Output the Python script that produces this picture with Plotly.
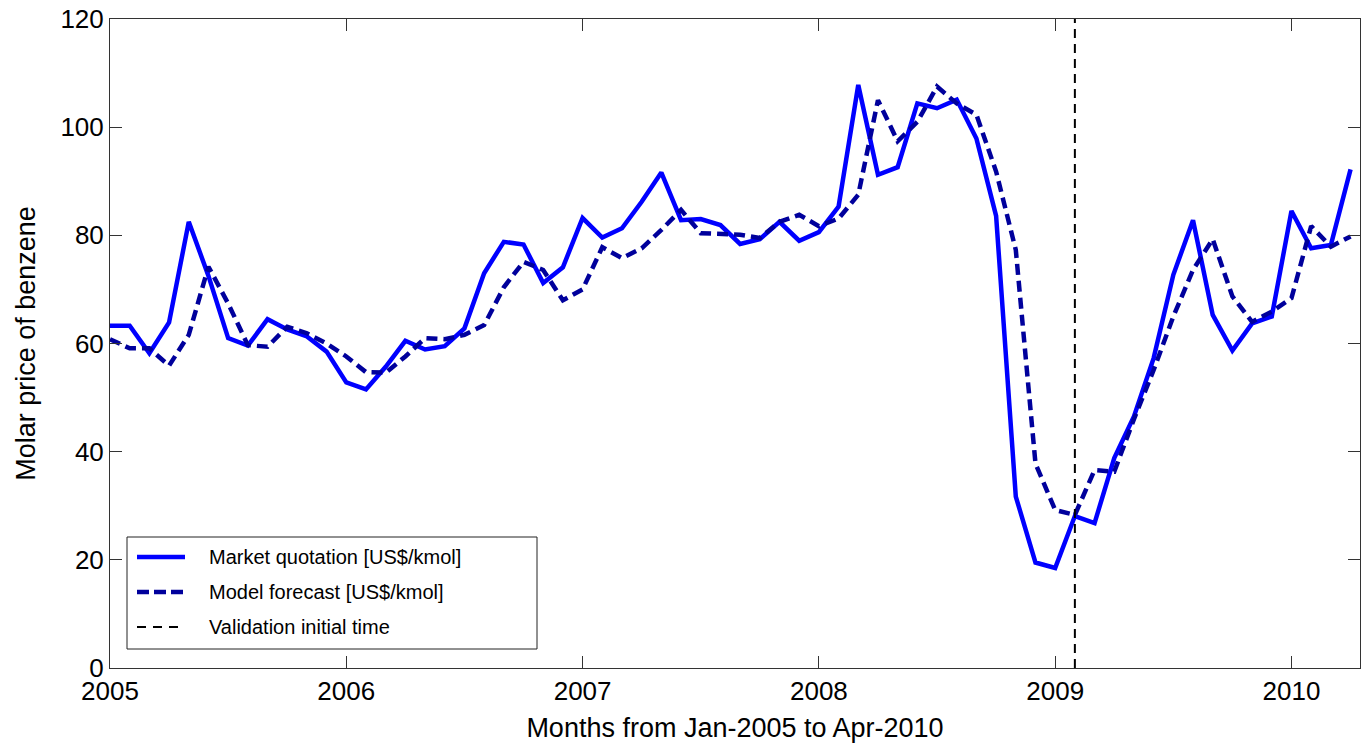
import plotly.graph_objects as go

# Monthly time axis: Jan-2005 .. Apr-2010 (64 months), in decimal years
n_months = 64
months = [2005 + i / 12 for i in range(n_months)]

# Market quotation of benzene [US$/kmol]
market = [
    63.3, 63.3, 58.2, 63.9, 82.5, 72.5, 61.0, 59.6, 64.5, 62.6, 61.3, 58.5,
    52.8, 51.5, 55.7, 60.5, 58.9, 59.5, 62.8, 73.0, 78.8, 78.3, 71.2, 74.1,
    83.2, 79.6, 81.3, 86.2, 91.6, 82.8, 83.0, 81.9, 78.4, 79.3, 82.5, 79.0,
    80.6, 85.3, 107.8, 91.2, 92.6, 104.4, 103.5, 105.1, 97.9, 83.6, 31.7, 19.5,
    18.5, 28.1, 26.8, 38.8, 46.5, 57.3, 72.7, 82.8, 65.3, 58.7, 63.7, 65.0,
    84.5, 77.6, 78.2, 92.2,
]

# Model forecast [US$/kmol]
model = [
    60.8, 59.1, 59.1, 55.9, 61.6, 74.2, 67.4, 59.7, 59.4, 63.1, 61.9, 60.0,
    57.6, 54.7, 54.6, 57.6, 61.0, 60.8, 61.6, 63.4, 70.4, 75.1, 73.6, 68.0,
    70.0, 77.8, 75.8, 77.6, 81.0, 84.7, 80.4, 80.2, 80.1, 79.5, 82.5, 83.8,
    81.7, 83.1, 87.5, 105.0, 97.4, 101.0, 107.5, 104.4, 102.3, 91.8, 77.3, 37.8,
    29.2, 28.3, 36.6, 36.3, 46.0, 55.1, 65.0, 73.6, 79.3, 68.7, 64.0, 65.9,
    68.4, 81.7, 77.9, 79.8,
]

# Start of the validation period (Feb-2009)
validation_start = 2009 + 1 / 12
y_limits = [0, 120]

year_ticks = [2005, 2006, 2007, 2008, 2009, 2010]
year_labels = ["2005", "2006", "2007", "2008", "2009", "2010"]

series_names = [
    "Market quotation [US$/kmol]",
    "Model forecast [US$/kmol]",
    "Validation initial time",
]

FONT = "Liberation Sans, Arial, Helvetica, sans-serif"
W, H = 1364, 744
M_L, M_R, M_T, M_B = 110, 4, 19, 76

styles = [
    dict(color="#0000FF", width=4.5),
    dict(color="#00009C", width=4.5, dash="11px,6px"),
    dict(color="black", width=2, dash="9px,6px"),
]

fig = go.Figure()

fig.add_trace(go.Scatter(x=months, y=market, mode="lines",
                         name=series_names[0], line=styles[0]))
fig.add_trace(go.Scatter(x=months, y=model, mode="lines",
                         name=series_names[1], line=styles[1]))
fig.add_trace(go.Scatter(x=[validation_start, validation_start], y=y_limits,
                         mode="lines", name=series_names[2], line=styles[2]))

axis_common = dict(
    showline=True, linecolor="#333333", linewidth=1, mirror="ticks",
    ticks="inside", ticklen=12, tickwidth=1, tickcolor="#333333",
    showgrid=False, zeroline=False,
    tickfont=dict(family=FONT, size=26, color="black"),
)

fig.update_xaxes(
    range=[2005, 2010.29],
    tickvals=year_ticks, ticktext=year_labels,
    title=dict(text="Months from Jan-2005 to Apr-2010",
               font=dict(family=FONT, size=27, color="black"), standoff=12),
    **axis_common,
)
fig.update_yaxes(
    range=y_limits, dtick=20,
    title=dict(text="Molar price of benzene",
               font=dict(family=FONT, size=27, color="black"), standoff=16),
    **axis_common,
)

# Boxed legend in the lower-left corner of the axes (pixel layout -> paper coords)
plot_w = W - M_L - M_R
plot_h = H - M_T - M_B


def px_x(px):
    return (px - M_L) / plot_w


def px_y(py):
    return (H - M_B - py) / plot_h


box = dict(x0=127, x1=537, y0=537, y1=649)
fig.add_shape(type="rect", xref="paper", yref="paper",
              x0=px_x(box["x0"]), x1=px_x(box["x1"]),
              y0=px_y(box["y1"]), y1=px_y(box["y0"]),
              line=dict(color="#222222", width=1), fillcolor="white",
              layer="above")
row_y = [557, 592, 627]
legend_dash = [None, "12px,5px", "9px,7px"]
for name, st, ry, dsh in zip(series_names, styles, row_y, legend_dash):
    line_style = dict(color=st["color"], width=st["width"])
    if dsh:
        line_style["dash"] = dsh
    fig.add_shape(type="line", xref="paper", yref="paper",
                  x0=px_x(137), x1=px_x(185), y0=px_y(ry), y1=px_y(ry),
                  line=line_style, layer="above")
    fig.add_annotation(xref="paper", yref="paper", x=px_x(207), y=px_y(ry),
                       text=name, showarrow=False, xanchor="left",
                       yanchor="middle",
                       font=dict(family=FONT, size=20, color="black"))

fig.update_layout(
    width=W, height=H,
    margin=dict(l=M_L, r=M_R, t=M_T, b=M_B),
    plot_bgcolor="white", paper_bgcolor="white",
    font=dict(family=FONT, color="black"),
    showlegend=False,
)

fig.write_html("out.html")
